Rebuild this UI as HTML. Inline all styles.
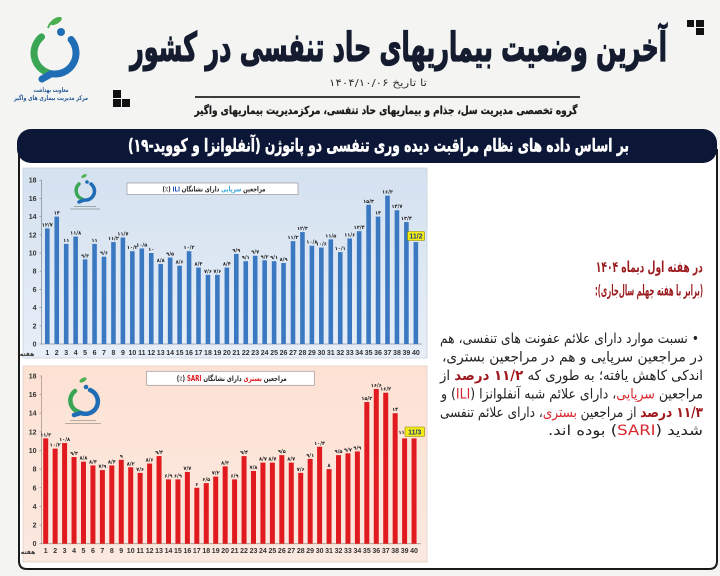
<!DOCTYPE html>
<html>
<head>
<meta charset="utf-8">
<style>
html,body{margin:0;padding:0;background:#f4f4f2;width:720px;height:576px;overflow:hidden}
svg{display:block}
</style>
</head>
<body>
<svg width="720" height="576" viewBox="0 0 720 576" xmlns="http://www.w3.org/2000/svg">
<defs>
<linearGradient id="gb" x1="0" y1="0" x2="0" y2="1"><stop offset="0" stop-color="#d4e1f0"/><stop offset="1" stop-color="#e7eef7"/></linearGradient>
<linearGradient id="gr" x1="0" y1="0" x2="0" y2="1"><stop offset="0" stop-color="#fde2d4"/><stop offset="1" stop-color="#fbe8df"/></linearGradient>
</defs>
<rect x="0" y="0" width="720" height="576" fill="#f4f4f2"/>

<!-- Logo -->
<g fill="none" stroke-linecap="round">
<path d="M41.5 36.9 A21 21 0 0 0 47.8 72.7" stroke="#3aa655" stroke-width="7"/>
<path d="M71.1 39.5 A21 21 0 0 1 51.4 73.7 L42 79" stroke="#1f6db4" stroke-width="7"/>
</g>
<circle cx="61" cy="32" r="4" fill="#1f6db4"/>
<ellipse cx="56" cy="21" rx="6.5" ry="3" transform="rotate(-30 56 21)" fill="#4caf50"/>
<path d="M48 28 Q50 22 54 21" stroke="#4caf50" stroke-width="2" fill="none"/>
<g font-family="'DejaVu Sans',sans-serif" font-weight="bold" fill="#2b5d9a" text-anchor="middle" direction="rtl">
<text x="51" y="92" font-size="6.5" textLength="35" lengthAdjust="spacingAndGlyphs">معاونت بهداشت</text>
<text x="51" y="100" font-size="6.5" textLength="74" lengthAdjust="spacingAndGlyphs">مرکز مدیریت بیماری های واگیر</text>
</g>

<!-- Squares icons -->
<g fill="#111">
<rect x="687" y="20" width="7" height="7"/><rect x="696" y="20" width="8" height="7"/><rect x="696" y="28" width="8" height="7"/>
<rect x="113" y="90" width="8" height="8"/><rect x="113" y="99" width="8" height="8"/><rect x="122" y="99" width="8" height="8"/>
</g>

<!-- Title -->
<g font-family="'DejaVu Sans',sans-serif" text-anchor="middle" direction="rtl">
<text x="398.5" y="61" font-size="40" font-weight="bold" fill="#151c30" stroke="#151c30" stroke-width="1.3" textLength="537" lengthAdjust="spacingAndGlyphs">آخرین وضعیت بیماریهای حاد تنفسی در کشور</text>
<text x="378" y="86" font-size="10" fill="#333" textLength="98" lengthAdjust="spacingAndGlyphs">تا تاریخ ۱۴۰۴/۱۰/۰۶</text>
<text x="386" y="114" font-size="11" font-weight="bold" fill="#1a1a1a" stroke="#1a1a1a" stroke-width="0.3" textLength="383" lengthAdjust="spacingAndGlyphs">گروه تخصصی مدیریت سل، جذام و بیماریهای حاد تنفسی، مرکزمدیریت بیماریهای واگیر</text>
</g>
<line x1="195" y1="97" x2="580" y2="97" stroke="#222" stroke-width="1.8"/>

<!-- Panel -->
<path d="M19 150 V561 Q19 569 27 569 H709 Q717 569 717 561 V150 Z" fill="#fff" stroke="#1a1a1a" stroke-width="2"/>
<rect x="17" y="129" width="700" height="34" rx="14" fill="#0c1636"/>
<text x="378.5" y="151.5" font-family="'DejaVu Sans',sans-serif" font-size="18" font-weight="bold" fill="#fff" stroke="#fff" stroke-width="0.5" text-anchor="middle" direction="rtl" textLength="501" lengthAdjust="spacingAndGlyphs">بر اساس داده های نظام مراقبت دیده وری تنفسی دو پاتوژن (آنفلوانزا و کووید-۱۹)</text>

<!-- Right text -->
<g font-family="'DejaVu Sans',sans-serif" text-anchor="middle" direction="rtl">
<text x="649.3" y="272" font-size="15" font-weight="bold" fill="#9b1b1f" textLength="107" lengthAdjust="spacingAndGlyphs">در هفته اول دیماه ۱۴۰۴</text>
<text x="649" y="295.5" font-size="15" font-weight="bold" fill="#9b1b1f" textLength="108" lengthAdjust="spacingAndGlyphs">(برابر با هفته چهلم سال‌جاری):</text>
<text x="569.5" y="343" font-size="14" fill="#222" textLength="259" lengthAdjust="spacingAndGlyphs">• نسبت موارد دارای علائم عفونت های تنفسی، هم</text>
<text x="572.5" y="361.5" font-size="14" fill="#222" textLength="261" lengthAdjust="spacingAndGlyphs">در مراجعین سرپایی و هم در مراجعین بستری،</text>
<text x="571.5" y="380" font-size="14" fill="#222" textLength="263" lengthAdjust="spacingAndGlyphs">اندکی کاهش یافته؛ به طوری که <tspan fill="#a0161c" font-weight="bold">۱۱/۲ درصد</tspan> از</text>
<text x="572" y="398.5" font-size="14" fill="#222" textLength="262" lengthAdjust="spacingAndGlyphs">مراجعین <tspan fill="#d6262e">سرپایی</tspan>، دارای علائم شبه آنفلوانزا (<tspan fill="#d6262e">ILI</tspan>) و</text>
<text x="571.5" y="417" font-size="14" fill="#222" textLength="263" lengthAdjust="spacingAndGlyphs"><tspan fill="#a0161c" font-weight="bold">۱۱/۳ درصد</tspan> از مراجعین <tspan fill="#d6262e">بستری</tspan>، دارای علائم تنفسی</text>
<text x="625.5" y="435" font-size="14" fill="#222" textLength="155" lengthAdjust="spacingAndGlyphs">شدید (<tspan fill="#d6262e">SARI</tspan>) بوده اند.</text>
</g>

<!-- ===== TOP CHART ===== -->
<rect x="23" y="168" width="404" height="190" fill="url(#gb)" stroke="#c9d3de" stroke-width="0.8"/>
<g fill="none" stroke-linecap="round">
<path d="M79 184 A9 9 0 0 0 82 199" stroke="#3aa655" stroke-width="3.5"/>
<path d="M91 184 A9 9 0 0 1 84 200 L79 202" stroke="#1f6db4" stroke-width="3.5"/>
</g>
<circle cx="87" cy="182" r="1.8" fill="#1f6db4"/>
<ellipse cx="84" cy="176" rx="3" ry="1.5" transform="rotate(-30 84 176)" fill="#4caf50"/>
<rect x="74" y="206" width="22" height="1" fill="#9aa"/><rect x="70" y="208.5" width="30" height="1" fill="#9aa"/>
<rect x="127" y="183" width="171" height="11.5" fill="#fff" stroke="#999" stroke-width="0.7"/>
<text x="214" y="191.5" font-family="'DejaVu Sans',sans-serif" font-size="7" font-weight="bold" fill="#222" text-anchor="middle" direction="rtl" textLength="103" lengthAdjust="spacingAndGlyphs">مراجعین <tspan fill="#2ea3dc">سرپایی</tspan> دارای نشانگان <tspan fill="#1f4fb0">ILI</tspan> (٪)</text>
<g stroke="#8a95a3" stroke-width="0.8">
<line x1="41.5" y1="180" x2="41.5" y2="344"/><line x1="41.5" y1="344" x2="422" y2="344"/>
<line x1="39.5" y1="344" x2="41.5" y2="344"/><line x1="39.5" y1="325.8" x2="41.5" y2="325.8"/><line x1="39.5" y1="307.6" x2="41.5" y2="307.6"/><line x1="39.5" y1="289.4" x2="41.5" y2="289.4"/><line x1="39.5" y1="271.2" x2="41.5" y2="271.2"/><line x1="39.5" y1="253" x2="41.5" y2="253"/><line x1="39.5" y1="234.8" x2="41.5" y2="234.8"/><line x1="39.5" y1="216.6" x2="41.5" y2="216.6"/><line x1="39.5" y1="198.4" x2="41.5" y2="198.4"/><line x1="39.5" y1="180.2" x2="41.5" y2="180.2"/>
</g>
<g font-family="'Liberation Sans',sans-serif" font-size="7" font-weight="bold" fill="#333" text-anchor="end">
<text x="36.5" y="346.5">0</text><text x="36.5" y="328.3">2</text><text x="36.5" y="310.1">4</text><text x="36.5" y="291.9">6</text><text x="36.5" y="273.7">8</text><text x="36.5" y="255.5">10</text><text x="36.5" y="237.3">12</text><text x="36.5" y="219.1">14</text><text x="36.5" y="200.9">16</text><text x="36.5" y="182.7">18</text>
</g>
<g fill="#3b78c2">
<rect x="45.00" y="228.43" width="4.6" height="115.57"/><rect x="54.45" y="216.6" width="4.6" height="127.4"/><rect x="63.90" y="243.9" width="4.6" height="100.1"/><rect x="73.35" y="236.62" width="4.6" height="107.38"/><rect x="82.80" y="259.37" width="4.6" height="84.63"/><rect x="92.25" y="243.9" width="4.6" height="100.1"/><rect x="101.70" y="256.64" width="4.6" height="87.36"/><rect x="111.15" y="242.08" width="4.6" height="101.92"/><rect x="120.60" y="237.53" width="4.6" height="106.47"/><rect x="130.05" y="251.18" width="4.6" height="92.82"/>
<rect x="139.50" y="248.45" width="4.6" height="95.55"/><rect x="148.95" y="253" width="4.6" height="91"/><rect x="158.40" y="263.92" width="4.6" height="80.08"/><rect x="167.85" y="257.55" width="4.6" height="86.45"/><rect x="177.30" y="265.74" width="4.6" height="78.26"/><rect x="186.75" y="251.18" width="4.6" height="92.82"/><rect x="196.20" y="267.56" width="4.6" height="76.44"/><rect x="205.65" y="274.84" width="4.6" height="69.16"/><rect x="215.10" y="274.84" width="4.6" height="69.16"/><rect x="224.55" y="267.56" width="4.6" height="76.44"/>
<rect x="234.00" y="253.91" width="4.6" height="90.09"/><rect x="243.45" y="261.19" width="4.6" height="82.81"/><rect x="252.90" y="255.73" width="4.6" height="88.27"/><rect x="262.35" y="260.28" width="4.6" height="83.72"/><rect x="271.80" y="261.19" width="4.6" height="82.81"/><rect x="281.25" y="263.01" width="4.6" height="80.99"/><rect x="290.70" y="241.17" width="4.6" height="102.83"/><rect x="300.15" y="232.07" width="4.6" height="111.93"/><rect x="309.60" y="245.72" width="4.6" height="98.28"/><rect x="319.05" y="247.54" width="4.6" height="96.46"/>
<rect x="328.50" y="239.35" width="4.6" height="104.65"/><rect x="337.95" y="252.09" width="4.6" height="91.91"/><rect x="347.40" y="238.44" width="4.6" height="105.56"/><rect x="356.85" y="231.16" width="4.6" height="112.84"/><rect x="366.30" y="204.77" width="4.6" height="139.23"/><rect x="375.75" y="216.6" width="4.6" height="127.4"/><rect x="385.20" y="195.67" width="4.6" height="148.33"/><rect x="394.65" y="210.23" width="4.6" height="133.77"/><rect x="404.10" y="222.06" width="4.6" height="121.94"/><rect x="413.55" y="242.08" width="4.6" height="101.92"/>
</g>
<g font-family="'DejaVu Sans',sans-serif" font-size="5" font-weight="bold" fill="#222" text-anchor="middle">
<text x="47.30" y="226.4">۱۲/۷</text><text x="56.75" y="214.6">۱۴</text><text x="66.20" y="241.9">۱۱</text><text x="75.65" y="234.6">۱۱/۸</text><text x="85.10" y="257.4">۹/۳</text><text x="94.55" y="241.9">۱۱</text><text x="104.00" y="254.6">۹/۶</text><text x="113.45" y="240.1">۱۱/۲</text><text x="122.90" y="235.5">۱۱/۷</text><text x="132.35" y="249.2">۱۰/۲</text>
<text x="141.80" y="246.4">۱۰/۵</text><text x="151.25" y="251">۱۰</text><text x="160.70" y="261.9">۸/۸</text><text x="170.15" y="255.5">۹/۵</text><text x="179.60" y="263.7">۸/۶</text><text x="189.05" y="249.2">۱۰/۲</text><text x="198.50" y="265.6">۸/۴</text><text x="207.95" y="272.8">۷/۶</text><text x="217.40" y="272.8">۷/۶</text><text x="226.85" y="265.6">۸/۴</text>
<text x="236.30" y="251.9">۹/۹</text><text x="245.75" y="259.2">۹/۱</text><text x="255.20" y="253.7">۹/۷</text><text x="264.65" y="258.3">۹/۲</text><text x="274.10" y="259.2">۹/۱</text><text x="283.55" y="261">۸/۹</text><text x="293.00" y="239.2">۱۱/۳</text><text x="302.45" y="230.1">۱۲/۳</text><text x="311.90" y="243.7">۱۰/۸</text><text x="321.35" y="245.5">۱۰/۶</text>
<text x="330.80" y="237.4">۱۱/۵</text><text x="340.25" y="250.1">۱۰/۱</text><text x="349.70" y="236.4">۱۱/۶</text><text x="359.15" y="229.2">۱۲/۴</text><text x="368.60" y="202.8">۱۵/۳</text><text x="378.05" y="214.6">۱۴</text><text x="387.50" y="193.7">۱۶/۳</text><text x="396.95" y="208.2">۱۴/۷</text><text x="406.40" y="220.1">۱۳/۴</text>
</g>
<rect x="407.5" y="231.5" width="17" height="9" rx="1" fill="#f5ee16" stroke="#8a7d00" stroke-width="0.6"/>
<text x="416" y="238.6" font-family="'Liberation Sans',sans-serif" font-size="7" font-weight="bold" fill="#1d3a7a" text-anchor="middle">11/2</text>
<g font-family="'Liberation Sans',sans-serif" font-size="7" font-weight="bold" fill="#333" text-anchor="middle">
<text x="47.30" y="355">1</text><text x="56.75" y="355">2</text><text x="66.20" y="355">3</text><text x="75.65" y="355">4</text><text x="85.10" y="355">5</text><text x="94.55" y="355">6</text><text x="104.00" y="355">7</text><text x="113.45" y="355">8</text><text x="122.90" y="355">9</text><text x="132.35" y="355">10</text>
<text x="141.80" y="355">11</text><text x="151.25" y="355">12</text><text x="160.70" y="355">13</text><text x="170.15" y="355">14</text><text x="179.60" y="355">15</text><text x="189.05" y="355">16</text><text x="198.50" y="355">17</text><text x="207.95" y="355">18</text><text x="217.40" y="355">19</text><text x="226.85" y="355">20</text>
<text x="236.30" y="355">21</text><text x="245.75" y="355">22</text><text x="255.20" y="355">23</text><text x="264.65" y="355">24</text><text x="274.10" y="355">25</text><text x="283.55" y="355">26</text><text x="293.00" y="355">27</text><text x="302.45" y="355">28</text><text x="311.90" y="355">29</text><text x="321.35" y="355">30</text>
<text x="330.80" y="355">31</text><text x="340.25" y="355">32</text><text x="349.70" y="355">33</text><text x="359.15" y="355">34</text><text x="368.60" y="355">35</text><text x="378.05" y="355">36</text><text x="387.50" y="355">37</text><text x="396.95" y="355">38</text><text x="406.40" y="355">39</text><text x="415.85" y="355">40</text>
</g>
<text x="27" y="356" font-family="'DejaVu Sans',sans-serif" font-size="6" font-weight="bold" fill="#333" text-anchor="middle" direction="rtl">هفته</text>

<!-- ===== BOTTOM CHART ===== -->
<rect x="23" y="366" width="404" height="196" fill="url(#gr)" stroke="#e2cfc6" stroke-width="0.8"/>
<g fill="none" stroke-linecap="round">
<path d="M75 391 A12 12 0 0 0 79 412" stroke="#3aa655" stroke-width="4.5"/>
<path d="M90 390 A12 12 0 0 1 81 413 L74 415" stroke="#1f6db4" stroke-width="4.5"/>
</g>
<circle cx="86" cy="387" r="2.3" fill="#1f6db4"/>
<ellipse cx="83" cy="380" rx="4" ry="2" transform="rotate(-30 83 380)" fill="#4caf50"/>
<rect x="70" y="420" width="26" height="1" fill="#b9a9a0"/><rect x="65" y="423" width="36" height="1" fill="#b9a9a0"/>
<rect x="146.7" y="371.3" width="167.6" height="14" fill="#fff" stroke="#999" stroke-width="0.7"/>
<text x="231.7" y="381" font-family="'DejaVu Sans',sans-serif" font-size="7.5" font-weight="bold" fill="#222" text-anchor="middle" direction="rtl" textLength="110" lengthAdjust="spacingAndGlyphs">مراجعین <tspan fill="#e0161c">بستری</tspan> دارای نشانگان <tspan fill="#e0161c">SARI</tspan> (٪)</text>
<g stroke="#a89890" stroke-width="0.8">
<line x1="41.5" y1="376" x2="41.5" y2="543.7"/><line x1="41.5" y1="543.7" x2="421" y2="543.7"/>
<line x1="39.5" y1="543.7" x2="41.5" y2="543.7"/><line x1="39.5" y1="525.06" x2="41.5" y2="525.06"/><line x1="39.5" y1="506.42" x2="41.5" y2="506.42"/><line x1="39.5" y1="487.78" x2="41.5" y2="487.78"/><line x1="39.5" y1="469.14" x2="41.5" y2="469.14"/><line x1="39.5" y1="450.5" x2="41.5" y2="450.5"/><line x1="39.5" y1="431.86" x2="41.5" y2="431.86"/><line x1="39.5" y1="413.22" x2="41.5" y2="413.22"/><line x1="39.5" y1="394.58" x2="41.5" y2="394.58"/><line x1="39.5" y1="375.94" x2="41.5" y2="375.94"/>
</g>
<g font-family="'Liberation Sans',sans-serif" font-size="7" font-weight="bold" fill="#333" text-anchor="end">
<text x="36.5" y="546.2">0</text><text x="36.5" y="527.6">2</text><text x="36.5" y="508.9">4</text><text x="36.5" y="490.3">6</text><text x="36.5" y="471.6">8</text><text x="36.5" y="453">10</text><text x="36.5" y="434.4">12</text><text x="36.5" y="415.7">14</text><text x="36.5" y="397.1">16</text><text x="36.5" y="378.4">18</text>
</g>
<g fill="#e01a1f">
<rect x="43.20" y="438.38" width="5" height="105.32"/><rect x="52.645" y="448.64" width="5" height="95.06"/><rect x="62.09" y="443.04" width="5" height="100.66"/><rect x="71.535" y="457.02" width="5" height="86.68"/><rect x="80.98" y="461.68" width="5" height="82.02"/><rect x="90.425" y="465.41" width="5" height="78.29"/><rect x="99.87" y="470.07" width="5" height="73.63"/><rect x="109.315" y="465.41" width="5" height="78.29"/><rect x="118.76" y="459.82" width="5" height="83.88"/><rect x="128.205" y="467.28" width="5" height="76.42"/>
<rect x="137.65" y="472.87" width="5" height="70.83"/><rect x="147.095" y="463.55" width="5" height="80.15"/><rect x="156.54" y="456.09" width="5" height="87.61"/><rect x="165.985" y="479.39" width="5" height="64.31"/><rect x="175.43" y="479.39" width="5" height="64.31"/><rect x="184.875" y="471.94" width="5" height="71.76"/><rect x="194.32" y="487.78" width="5" height="55.92"/><rect x="203.765" y="483.12" width="5" height="60.58"/><rect x="213.21" y="476.60" width="5" height="67.10"/><rect x="222.655" y="466.34" width="5" height="77.36"/>
<rect x="232.10" y="479.39" width="5" height="64.31"/><rect x="241.545" y="456.09" width="5" height="87.61"/><rect x="250.99" y="471.00" width="5" height="72.70"/><rect x="260.435" y="462.62" width="5" height="81.08"/><rect x="269.88" y="462.62" width="5" height="81.08"/><rect x="279.325" y="455.16" width="5" height="88.54"/><rect x="288.77" y="462.62" width="5" height="81.08"/><rect x="298.215" y="472.87" width="5" height="70.83"/><rect x="307.66" y="458.89" width="5" height="84.81"/><rect x="317.105" y="446.77" width="5" height="96.93"/>
<rect x="326.55" y="469.14" width="5" height="74.56"/><rect x="335.995" y="455.16" width="5" height="88.54"/><rect x="345.44" y="453.30" width="5" height="90.40"/><rect x="354.885" y="451.43" width="5" height="92.27"/><rect x="364.33" y="402.04" width="5" height="141.66"/><rect x="373.775" y="388.99" width="5" height="154.71"/><rect x="383.22" y="392.72" width="5" height="150.98"/><rect x="392.665" y="413.22" width="5" height="130.48"/><rect x="402.11" y="438.38" width="5" height="105.32"/><rect x="411.555" y="438.38" width="5" height="105.32"/>
</g>
<g font-family="'DejaVu Sans',sans-serif" font-size="5" font-weight="bold" fill="#222" text-anchor="middle">
<text x="45.70" y="436.4">۱۱/۳</text><text x="55.145" y="446.6">۱۰/۲</text><text x="64.59" y="441">۱۰/۸</text><text x="74.035" y="455">۹/۳</text><text x="83.48" y="459.7">۸/۸</text><text x="92.925" y="463.4">۸/۴</text><text x="102.37" y="468.1">۷/۹</text><text x="111.815" y="463.4">۸/۴</text><text x="121.26" y="457.8">۹</text><text x="130.705" y="465.3">۸/۲</text>
<text x="140.15" y="470.9">۷/۶</text><text x="149.595" y="461.5">۸/۶</text><text x="159.04" y="454.1">۹/۴</text><text x="168.485" y="477.4">۶/۹</text><text x="177.93" y="477.4">۶/۹</text><text x="187.375" y="469.9">۷/۷</text><text x="196.82" y="485.8">۶</text><text x="206.265" y="481.1">۶/۵</text><text x="215.71" y="474.6">۷/۲</text><text x="225.155" y="464.3">۸/۳</text>
<text x="234.60" y="477.4">۶/۹</text><text x="244.045" y="454.1">۹/۴</text><text x="253.49" y="469">۷/۸</text><text x="262.935" y="460.6">۸/۷</text><text x="272.38" y="460.6">۸/۷</text><text x="281.825" y="453.2">۹/۵</text><text x="291.27" y="460.6">۸/۷</text><text x="300.715" y="470.9">۷/۶</text><text x="310.16" y="456.9">۹/۱</text><text x="319.605" y="444.8">۱۰/۴</text>
<text x="329.05" y="467.1">۸</text><text x="338.495" y="453.2">۹/۵</text><text x="347.94" y="451.3">۹/۷</text><text x="357.385" y="449.4">۹/۹</text><text x="366.83" y="400">۱۵/۲</text><text x="376.275" y="387">۱۶/۶</text><text x="385.72" y="390.7">۱۶/۲</text><text x="395.165" y="411.2">۱۴</text><text x="401.5" y="434">۱۱</text>
</g>
<rect x="405" y="427" width="19.5" height="9.5" rx="1" fill="#f5ee16" stroke="#8a7d00" stroke-width="0.6"/>
<text x="414.7" y="434.5" font-family="'Liberation Sans',sans-serif" font-size="7" font-weight="bold" fill="#1d3a7a" text-anchor="middle">11/3</text>
<g font-family="'Liberation Sans',sans-serif" font-size="7" font-weight="bold" fill="#333" text-anchor="middle">
<text x="45.70" y="553">1</text><text x="55.145" y="553">2</text><text x="64.59" y="553">3</text><text x="74.035" y="553">4</text><text x="83.48" y="553">5</text><text x="92.925" y="553">6</text><text x="102.37" y="553">7</text><text x="111.815" y="553">8</text><text x="121.26" y="553">9</text><text x="130.705" y="553">10</text>
<text x="140.15" y="553">11</text><text x="149.595" y="553">12</text><text x="159.04" y="553">13</text><text x="168.485" y="553">14</text><text x="177.93" y="553">15</text><text x="187.375" y="553">16</text><text x="196.82" y="553">17</text><text x="206.265" y="553">18</text><text x="215.71" y="553">19</text><text x="225.155" y="553">20</text>
<text x="234.60" y="553">21</text><text x="244.045" y="553">22</text><text x="253.49" y="553">23</text><text x="262.935" y="553">24</text><text x="272.38" y="553">25</text><text x="281.825" y="553">26</text><text x="291.27" y="553">27</text><text x="300.715" y="553">28</text><text x="310.16" y="553">29</text><text x="319.605" y="553">30</text>
<text x="329.05" y="553">31</text><text x="338.495" y="553">32</text><text x="347.94" y="553">33</text><text x="357.385" y="553">34</text><text x="366.83" y="553">35</text><text x="376.275" y="553">36</text><text x="385.72" y="553">37</text><text x="395.165" y="553">38</text><text x="404.61" y="553">39</text><text x="414.055" y="553">40</text>
</g>
<text x="28" y="554" font-family="'DejaVu Sans',sans-serif" font-size="6" font-weight="bold" fill="#333" text-anchor="middle" direction="rtl">هفته</text>
</svg>
</body>
</html>
